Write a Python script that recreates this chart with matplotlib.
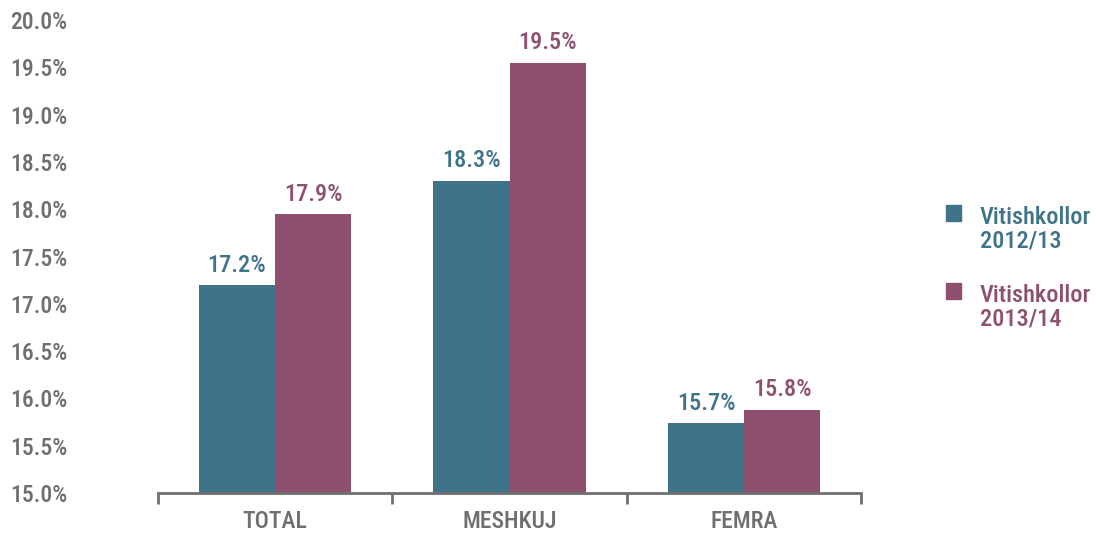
import matplotlib
matplotlib.use('Agg')
import matplotlib.pyplot as plt
from matplotlib import font_manager
from matplotlib.patches import Rectangle
import numpy as np

categories = ['TOTAL', 'MESHKUJ', 'FEMRA']
series_names = ['Vitishkollor\n2012/13', 'Vitishkollor\n2013/14']
values_1213 = [17.2, 18.3, 15.74]
values_1314 = [17.95, 19.55, 15.88]
labels_1213 = ['17.2%', '18.3%', '15.7%']
labels_1314 = ['17.9%', '19.5%', '15.8%']
yticks = [15.0, 15.5, 16.0, 16.5, 17.0, 17.5, 18.0, 18.5, 19.0, 19.5, 20.0]

teal = '#3e7389'
plum = '#8f5070'
grey = '#6f6f70'

names = {f.name for f in font_manager.fontManager.ttflist}
family = 'DejaVu Sans'
for cand in ['Roboto Condensed', 'Liberation Sans Narrow', 'DejaVu Sans Condensed']:
	if cand in names:
		family = cand
		break
plt.rcParams['font.family'] = [family, 'DejaVu Sans']
plt.rcParams['font.weight'] = 'medium'

fig = plt.figure(figsize=(10.96, 5.33), dpi=100, facecolor='w')
ax = fig.add_axes([0.144, 0.075, 0.642, 0.8875])

x = np.arange(len(categories))
w = 0.325
b1 = ax.bar(x - w / 2, np.array(values_1213) - 15, w, bottom=15, color=teal)
b2 = ax.bar(x + w / 2, np.array(values_1314) - 15, w, bottom=15, color=plum)

for bars, labs, col in [(b1, labels_1213, teal), (b2, labels_1314, plum)]:
	for rect, lab in zip(bars, labs):
		ax.annotate(lab, (rect.get_x() + rect.get_width() / 2, rect.get_y() + rect.get_height()),
			xytext=(0, 6), textcoords='offset points', ha='center', va='bottom',
			color=col, fontsize=17.5, fontweight='medium')

ax.set_xlim(-0.5, 2.5)
ax.set_ylim(15.0, 20.0)
ax.set_yticks(yticks)
ax.set_yticklabels(['%.1f%%' % t for t in yticks])
ax.tick_params(axis='y', length=0, pad=106, labelsize=17, labelcolor=grey)
for lab in ax.get_yticklabels():
	lab.set_horizontalalignment('left')
	lab.set_fontweight('medium')

ax.set_xticks([-0.5, 0.5, 1.5, 2.5])
ax.set_xticklabels([])
ax.set_xticks(x, minor=True)
ax.set_xticklabels(categories, minor=True, fontweight='medium')
ax.tick_params(axis='x', which='major', direction='out', length=8, width=2, color=grey)
ax.tick_params(axis='x', which='minor', length=0, pad=12, labelsize=17, labelcolor=grey)

for s in ['top', 'right', 'left']:
	ax.spines[s].set_visible(False)
ax.spines['bottom'].set_color(grey)
ax.spines['bottom'].set_linewidth(2)

# legend drawn by hand so the swatch sits on the first line of each label
leg_tops = [205, 283]
for name, col, top in zip(series_names, [teal, plum], leg_tops):
	fig.patches.append(Rectangle((946 / 1096, 1 - (top + 16) / 533), 15 / 1096, 16 / 533,
		transform=fig.transFigure, color=col))
	fig.text(980 / 1096, 1 - (top + 1) / 533, name, color=col, fontsize=17.5,
		fontweight='medium', va='top', ha='left', linespacing=1.05)

fig.savefig('out.png', dpi=100, facecolor='w')
